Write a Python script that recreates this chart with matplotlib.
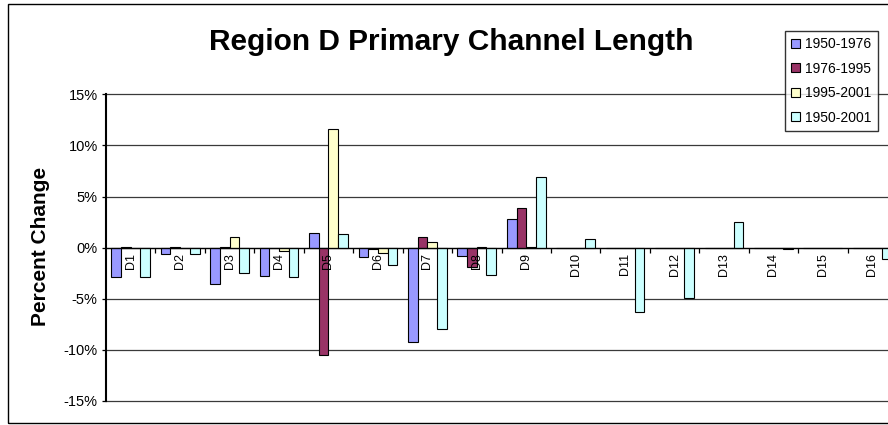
import numpy as np
import matplotlib
matplotlib.use("Agg")
import matplotlib.pyplot as plt
from matplotlib.patches import Patch, Rectangle
from matplotlib.ticker import FixedLocator, FuncFormatter

plt.rcParams["font.family"] = ["Liberation Sans", "DejaVu Sans"]

# Percent change in primary channel length per sub-basin
categories = ["D1", "D2", "D3", "D4", "D5", "D6", "D7", "D8",
              "D9", "D10", "D11", "D12", "D13", "D14", "D15", "D16"]
periods = ["1950-1976", "1976-1995", "1995-2001", "1950-2001"]
change_1950_1976 = [-2.9, -0.6, -3.6, -2.8, 1.4, -0.9, -9.2, -0.8,
                    2.8, 0, 0, 0, 0, 0, 0, 0]
change_1976_1995 = [0.1, 0.1, 0.1, 0.0, -10.5, -0.1, 1.0, -1.9,
                    3.9, 0, 0, 0, 0, 0, 0, 0]
change_1995_2001 = [0.0, 0.0, 1.0, -0.3, 11.6, -0.5, 0.6, 0.1,
                    0.1, 0, 0, 0, 0, 0, 0, 0]
change_1950_2001 = [-2.9, -0.6, -2.5, -2.9, 1.3, -1.7, -8.0, -2.7,
                    6.9, 0.8, -6.3, -4.9, 2.5, -0.1, 0, -1.1]
series = [change_1950_1976, change_1976_1995, change_1995_2001, change_1950_2001]
colors = ["#9999FF", "#993366", "#FFFFCC", "#CCFFFF"]

fig = plt.figure(figsize=(8.88, 4.25), dpi=100)
# plot area runs a little past the right edge of the canvas
ax = fig.add_axes([106 / 888, 1 - 401 / 425, 791 / 888, 306.7 / 425])

x = np.arange(len(categories))
w = 0.196
for k, (vals, col) in enumerate(zip(series, colors)):
    ax.bar(x + (k - 1.5) * w, vals, width=w, color=col, edgecolor="black",
           linewidth=0.8, zorder=3)

ax.set_xlim(-0.5, len(categories) - 0.5)
ax.set_ylim(-15, 15)

# gridlines
ax.set_yticks(np.arange(-15, 16, 5))
ax.yaxis.set_major_formatter(FuncFormatter(lambda v, p: f"{v:.0f}%"))
ax.grid(axis="y", color="#3a3a3a", linewidth=0.9, zorder=0)
for gl in ax.get_ygridlines():
    gl.set_clip_on(False)
ax.tick_params(axis="y", direction="out", length=3, width=0.9, pad=3,
               labelsize=10.5, colors="black")

# category axis sits at zero
ax.spines["bottom"].set_position(("data", 0))
ax.spines["bottom"].set_linewidth(0.9)
ax.spines["bottom"].set_zorder(4)
ax.spines["top"].set_visible(False)
ax.spines["right"].set_visible(False)
ax.spines["left"].set_linewidth(1.5)
ax.set_xticks([])
ax.xaxis.set_minor_locator(FixedLocator(np.arange(0.5, len(categories), 1)))
ax.tick_params(axis="x", which="minor", direction="out", length=3.5, width=0.9)

# category names written over the bars
for xi, name in zip(x, categories):
    ax.annotate(name, (xi, 0), xytext=(0, -4), textcoords="offset points",
                rotation=90, ha="center", va="top", fontsize=9, zorder=6,
                annotation_clip=False)

fig.text(41 / 888, 1 - 246.7 / 425, "Percent Change", rotation=90,
         ha="center", va="center", fontsize=15, fontweight="bold")
fig.text(451 / 888, 1 - 50 / 425, "Region D Primary Channel Length",
         ha="center", va="baseline", fontsize=21.5, fontweight="bold")

# chart border
fig.patches.append(Rectangle((8 / 888, 2 / 425), 1.0, 1 - 6 / 425,
                             transform=fig.transFigure, fill=False,
                             edgecolor="black", linewidth=1.0))

handles = [Patch(facecolor=c, edgecolor="black", linewidth=0.8) for c in colors]
leg = fig.legend(handles, periods, loc="upper left",
                 bbox_to_anchor=(785 / 888, 1 - 31 / 425),
                 fontsize=10, frameon=True, fancybox=False,
                 handlelength=0.6, handleheight=0.6, handletextpad=0.4,
                 labelspacing=0.75, borderpad=0.45, borderaxespad=0)
leg.get_frame().set_edgecolor("black")
leg.get_frame().set_linewidth(1.0)

fig.savefig("out.png", dpi=100)
